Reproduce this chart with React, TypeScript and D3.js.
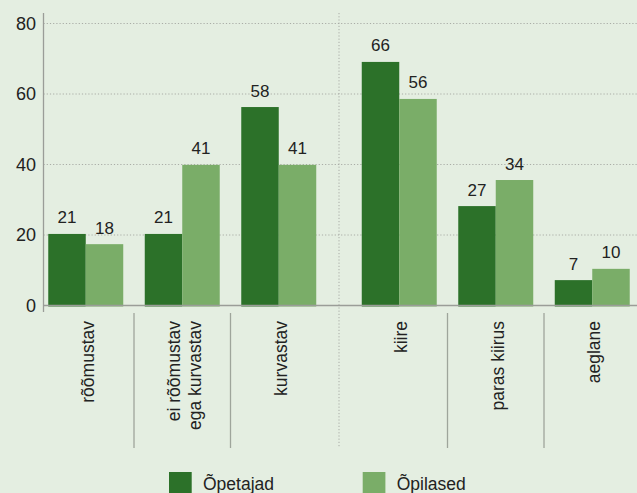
import React, { useEffect } from "react";
import * as d3 from "d3";

const leftCategories = ["rõõmustav", "ei rõõmustav|ega kurvastav", "kurvastav"];
const rightCategories = ["kiire", "paras kiirus", "aeglane"];
const seriesNames = ["Õpetajad", "Õpilased"];
// bar heights as drawn
const teacherValues = [20.3, 20.3, 56.3, 69.1, 28.2, 7.2];
const studentValues = [17.4, 39.9, 39.9, 58.6, 35.6, 10.4];
// printed value labels
const teacherLabels = ["21", "21", "58", "66", "27", "7"];
const studentLabels = ["18", "41", "41", "56", "34", "10"];
const yTicks = [0, 20, 40, 60, 80];

const W = 637;
const H = 493;
const BG = "#e4eee1";
const DARK = "#2c7129";
const LIGHT = "#7aad68";
const TEXT = "#222";
const FONT = "'Liberation Sans', Arial, Helvetica, sans-serif";

export default function App() {
  useEffect(() => {
    document.body.style.margin = "0";
  }, []);

  const y = d3.scaleLinear().domain([0, 80]).range([305.5, 23.5]);
  const axisX = 43.5;
  const xLeft = d3.scaleBand<string>().domain(leftCategories).range([37.5, 327]).paddingInner(0.223).paddingOuter(0.1115);
  const xRight = d3.scaleBand<string>().domain(rightCategories).range([351, 640.5]).paddingInner(0.223).paddingOuter(0.1115);
  const bw = xLeft.bandwidth();
  const sub = d3.scaleBand<string>().domain(seriesNames).range([0, bw]);
  const colors = d3.scaleOrdinal<string, string>().domain(seriesNames).range([DARK, LIGHT]);

  const groups = [
    ...leftCategories.map((c) => ({ cat: c, x: xLeft(c) as number, step: xLeft.step() })),
    ...rightCategories.map((c) => ({ cat: c, x: xRight(c) as number, step: xRight.step() })),
  ];
  const panelSep = ((xLeft.range()[1] as number) + (xRight.range()[0] as number)) / 2;

  const separators = groups
    .filter((_, i) => i !== 2 && i !== 5)
    .map((g) => g.x + bw + (g.step - bw) / 2);

  return (
    <svg width={W} height={H} style={{ position: "absolute", left: 0, top: 0, display: "block" }} fontFamily={FONT}>
      <rect x={0} y={0} width={W} height={H} fill={BG} />
      {/* grid */}
      {yTicks.filter((t) => t > 0).map((t) => (
        <line key={t} x1={axisX} x2={W} y1={y(t)} y2={y(t)} stroke="#a9aca6" strokeWidth={1} strokeDasharray="1.2 2" />
      ))}
      {/* panel separator */}
      <line x1={panelSep} x2={panelSep} y1={13} y2={448} stroke="#a9aca6" strokeWidth={1} strokeDasharray="1.2 2" />
      {/* category separators */}
      {separators.map((sx, i) => (
        <line key={i} x1={sx} x2={sx} y1={313} y2={448} stroke="#9ea59b" strokeWidth={1.3} />
      ))}
      {/* bars */}
      {groups.map((g, i) => (
        <g key={g.cat} transform={`translate(${g.x},0)`}>
          {[teacherValues[i], studentValues[i]].map((v, j) => (
            <rect key={j} x={sub(seriesNames[j])} y={y(v)} width={sub.bandwidth()} height={y(0) - y(v) + 1} fill={colors(seriesNames[j])} />
          ))}
          {[teacherLabels[i], studentLabels[i]].map((lab, j) => {
            const v = j === 0 ? teacherValues[i] : studentValues[i];
            return (
              <text key={"l" + j} x={(sub(seriesNames[j]) as number) + sub.bandwidth() / 2} y={y(v) - 10.5} textAnchor="middle" fontSize={17} fill={TEXT}>
                {lab}
              </text>
            );
          })}
        </g>
      ))}
      {/* axes */}
      <line x1={axisX} x2={W} y1={y(0)} y2={y(0)} stroke="#9a9d98" strokeWidth={1.3} />
      <line x1={axisX} x2={axisX} y1={13} y2={312} stroke="#9a9d98" strokeWidth={1.3} />
      {yTicks.map((t) => (
        <text key={t} x={36} y={y(t)} dy="0.36em" textAnchor="end" fontSize={18} fill={TEXT}>
          {t}
        </text>
      ))}
      {/* category labels */}
      {groups.map((g) => {
        const lines = g.cat.split("|");
        const cx = g.x + bw / 2 + 2;
        const lh = 21;
        return (
          <text key={"c" + g.cat} transform={`translate(${cx},321) rotate(-90)`} textAnchor="end" fontSize={17.5} fill={TEXT}>
            {lines.map((ln, k) => (
              <tspan key={k} x={0} y={(k - (lines.length - 1) / 2) * lh} dy="0.35em">
                {ln}
              </tspan>
            ))}
          </text>
        );
      })}
      {/* legend */}
      {seriesNames.map((s, i) => {
        const lx = [169, 362.7][i];
        return (
          <g key={s} transform={`translate(${lx},472)`}>
            <rect x={0} y={0} width={22.7} height={22.7} fill={colors(s)} />
            <text x={34} y={17.5} fontSize={17.5} fill={TEXT}>
              {s}
            </text>
          </g>
        );
      })}
    </svg>
  );
}
